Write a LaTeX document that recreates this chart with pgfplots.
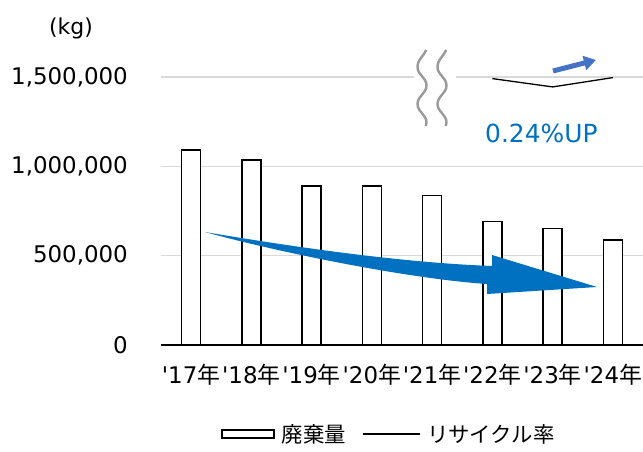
\documentclass[border=0pt]{standalone}
\usepackage{pgfplots}
\pgfplotsset{compat=1.18}
\usepackage{fontspec}
\setmainfont{DejaVu Sans}
\newfontfamily\cjk{Noto Sans CJK JP}
\usetikzlibrary{arrows.meta}
\definecolor{gridc}{HTML}{D9D9D9}
\definecolor{arrowblue}{HTML}{0070C0}
\definecolor{smallblue}{HTML}{4472C4}
\definecolor{wavegray}{HTML}{9A9A9A}
\newcommand{\yr}[1]{\textquotesingle#1{\cjk 年}}
\newcommand{\wave}[1]{%
  \draw[wavegray, line width=2.4bp] (#1bp+4.3bp,295bp) to[out=-115,in=90] (#1bp-4.5bp,278bp)
    to[out=-90,in=90] (#1bp+4.5bp,259.5bp) to[out=-90,in=90] (#1bp-4.5bp,241bp)
    to[out=-90,in=90] (#1bp+4.5bp,222.5bp) to[out=-90,in=70] (#1bp+3.8bp,219bp);}
\begin{document}
\begin{tikzpicture}
\begin{axis}[
  at={(0,0)}, anchor=south west,
  scale only axis, width=482bp, height=268bp,
  xmin=-0.5, xmax=7.5, ymin=0, ymax=1500000,
  scaled y ticks=false,
  axis x line*=bottom, axis y line*=left,
  y axis line style={draw=none},
  x axis line style={black, line width=1.3bp, -},
  major tick length=0pt,
  xtick={0,1,2,3,4,5,6,7},
  xticklabels={\yr{17},\yr{18},\yr{19},\yr{20},\yr{21},\yr{22},\yr{23},\yr{24}},
  ytick={0,500000,1000000,1500000},
  yticklabels={0,{500,000},{1,000,000},{1,500,000}},
  ymajorgrids, grid style={gridc, line width=1.3bp},
  tick label style={font=\fontsize{23}{27}\selectfont, inner sep=0pt},
  yticklabel style={anchor=east, xshift=-33bp},
  xticklabel style={anchor=base, yshift=-38bp},
  clip=false,
  legend style={at={(0.472,-0.332)}, anchor=center, draw=none, fill=none,
    legend columns=2, font=\fontsize{21.5}{26}\selectfont,
    /tikz/every odd column/.append style={column sep=6bp},
    /tikz/every even column/.append style={column sep=15bp},
    nodes={inner sep=1bp}},
  legend cell align=left,
]
\addplot[ybar, bar width=19bp, draw=black, fill=white, line width=1.3bp,
  legend image code/.code={\draw[black, line width=1.2bp, fill=white] (0bp,-4bp) rectangle (52bp,4bp);}]
  coordinates {(0,1092000) (1,1036000) (2,890000) (3,890000) (4,838000) (5,693000) (6,653000) (7,588000)};
\addlegendentry{\cjk 廃棄量}
\addplot[black, line width=1.3bp, mark=none,
  legend image code/.code={\draw[black, line width=1.3bp] (0bp,0bp) -- (57bp,0bp);}]
  coordinates {(5,1491000) (6,1444500) (7,1496600)};
\addlegendentry{\cjk リサイクル率}
\end{axis}
% y unit label
\node[font=\fontsize{22}{26}\selectfont, anchor=center] at (-90bp,317bp) {(kg)};
% axis break symbol
\fill[white] (253bp,262bp) rectangle (295bp,274bp);
\wave{261}
\wave{281}
% small up arrow
\draw[smallblue, line width=5bp, -{Triangle[length=12bp,width=14bp]}] (392bp,274bp) -- (435bp,285bp);
\node[font=\fontsize{25}{30}\selectfont, text=arrowblue, anchor=west, inner sep=0pt] at (324bp,212bp) {0.24\%UP};
% big downward trend arrow
\fill[arrowblue] (44bp,113bp) .. controls (150bp,95bp) and (250bp,82bp) .. (331bp,79bp)
  -- (331bp,90bp) -- (436bp,58bp) -- (326bp,51bp) -- (326bp,61bp)
  .. controls (250bp,66bp) and (120bp,92bp) .. (44bp,113bp) -- cycle;
\pgfresetboundingbox
\path[use as bounding box] (-161bp,-107bp) rectangle (482bp,345bp);
\end{tikzpicture}
\end{document}
